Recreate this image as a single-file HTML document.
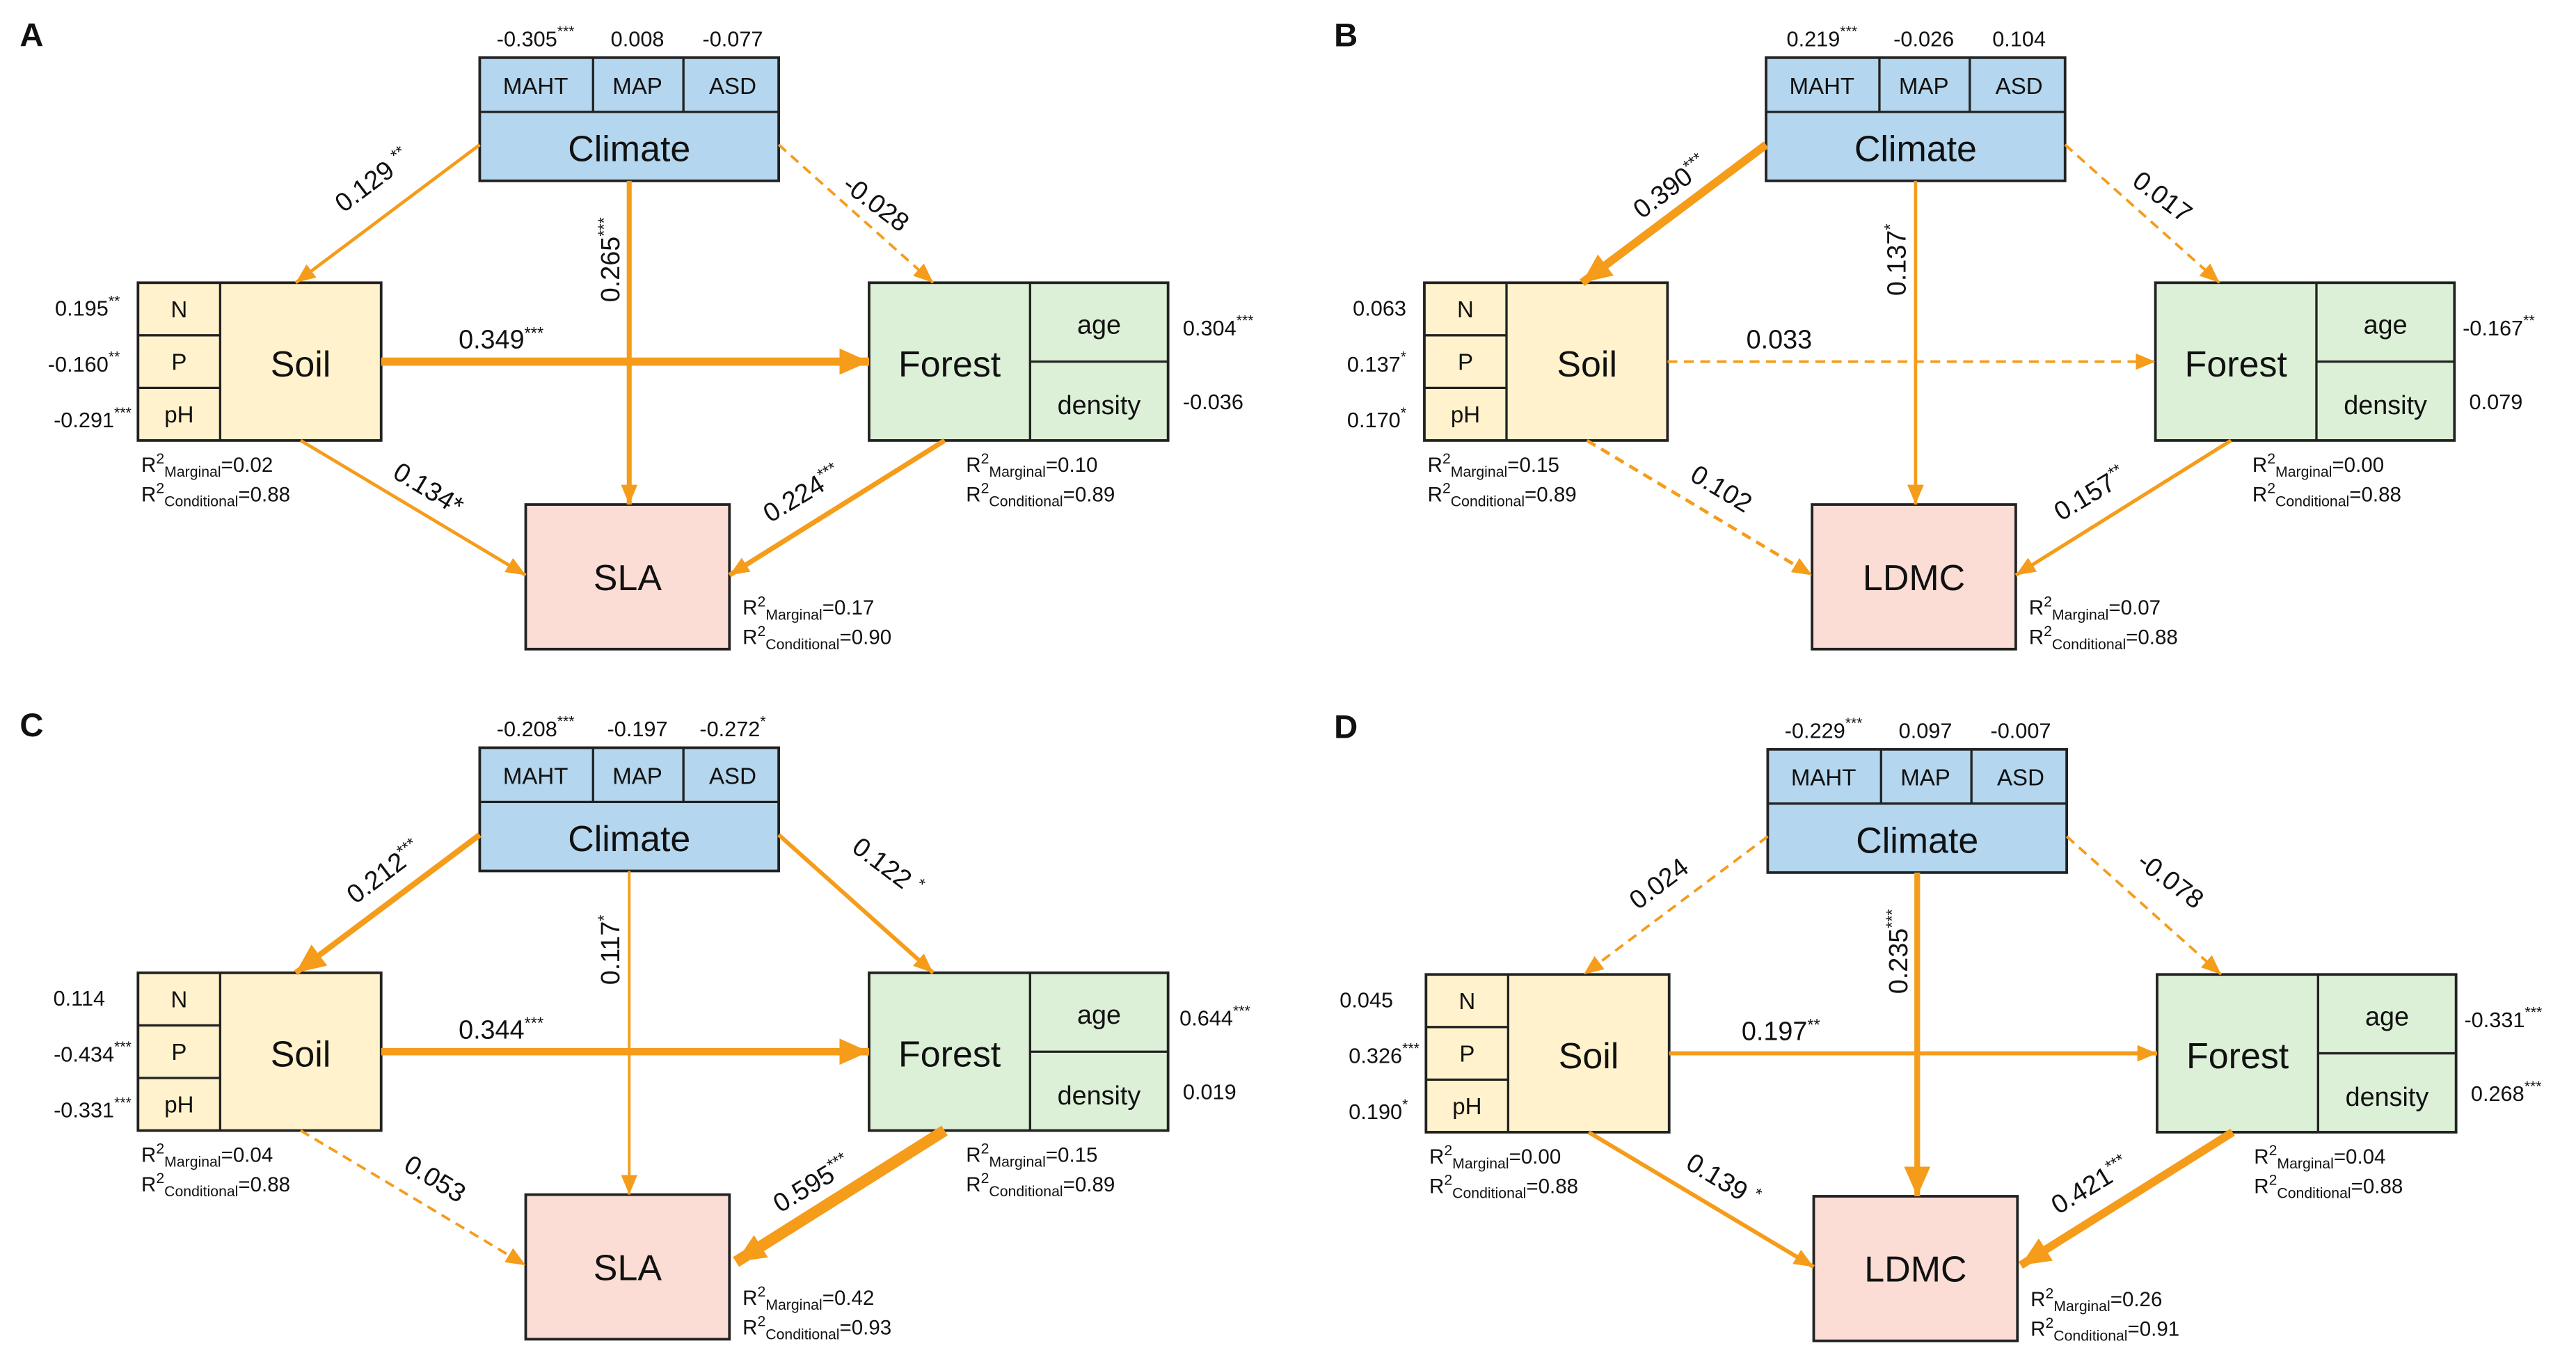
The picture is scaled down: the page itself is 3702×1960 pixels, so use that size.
<!DOCTYPE html>
<html><head><meta charset="utf-8"><style>
html,body{margin:0;padding:0;background:#fff}
svg{display:block}
text{font-family:"Liberation Sans",Arial,sans-serif;fill:#111}
.n{font-size:13px}.c{font-size:14px}.big{font-size:22px}.p{font-size:16px}.r{font-size:12.5px}
.box{stroke:#222;stroke-width:1.6}
.ln{stroke:#222;stroke-width:1.4}
.a{stroke:#f59c1a;fill:none}
.d{stroke-dasharray:6 4}
</style></head><body>
<svg width="3702" height="1960" viewBox="0 0 1568 830" xmlns="http://www.w3.org/2000/svg">
<defs>
<marker id="s" markerUnits="userSpaceOnUse" markerWidth="12" markerHeight="10" refX="12" refY="5" orient="auto"><path d="M0,0 L12,5 L0,10 z" fill="#f59c1a"/></marker>
<marker id="b" markerUnits="userSpaceOnUse" markerWidth="18" markerHeight="16" refX="18" refY="8" orient="auto"><path d="M0,0 L18,8 L0,16 z" fill="#f59c1a"/></marker>
</defs>

<!-- Panel A -->
<g>
<text x="12" y="28" style="font-size:20px;font-weight:bold">A</text>
<text class="n" x="326" y="28" text-anchor="middle">-0.305<tspan dy="-6" font-size="9">***</tspan></text>
<text class="n" x="388" y="28" text-anchor="middle">0.008</text>
<text class="n" x="446" y="28" text-anchor="middle">-0.077</text>
<rect class="box" x="292" y="35" width="182" height="75" fill="#b4d6ee"/>
<line class="ln" x1="292" y1="68" x2="474" y2="68"/><line class="ln" x1="361" y1="35" x2="361" y2="68"/><line class="ln" x1="416" y1="35" x2="416" y2="68"/>
<text class="c" x="326" y="57" text-anchor="middle">MAHT</text><text class="c" x="388" y="57" text-anchor="middle">MAP</text><text class="c" x="446" y="57" text-anchor="middle">ASD</text>
<text class="big" x="383" y="98" text-anchor="middle">Climate</text>
<rect class="box" x="84" y="172" width="148" height="96" fill="#fff2cc"/>
<line class="ln" x1="134" y1="172" x2="134" y2="268"/><line class="ln" x1="84" y1="204" x2="134" y2="204"/><line class="ln" x1="84" y1="236" x2="134" y2="236"/>
<text class="c" x="109" y="193" text-anchor="middle">N</text><text class="c" x="109" y="225" text-anchor="middle">P</text><text class="c" x="109" y="257" text-anchor="middle">pH</text>
<text class="big" x="183" y="229" text-anchor="middle">Soil</text>
<rect class="box" x="529" y="172" width="182" height="96" fill="#dcefd7"/>
<line class="ln" x1="627" y1="172" x2="627" y2="268"/><line class="ln" x1="627" y1="220" x2="711" y2="220"/>
<text class="big" x="578" y="229" text-anchor="middle">Forest</text>
<text class="p" x="669" y="203" text-anchor="middle">age</text><text class="p" x="669" y="252" text-anchor="middle">density</text>
<rect class="box" x="320" y="307" width="124" height="88" fill="#fbddd5"/>
<text class="big" x="382" y="359" text-anchor="middle">SLA</text>
<text class="n" x="73" y="192" text-anchor="end">0.195<tspan dy="-6" font-size="9">**</tspan></text>
<text class="n" x="73" y="226" text-anchor="end">-0.160<tspan dy="-6" font-size="9">**</tspan></text>
<text class="n" x="80" y="260" text-anchor="end">-0.291<tspan dy="-6" font-size="9">***</tspan></text>
<text class="n" x="720" y="204">0.304<tspan dy="-6" font-size="9">***</tspan></text>
<text class="n" x="720" y="249">-0.036</text>
<text class="r" x="86" y="287">R<tspan dy="-5" font-size="9">2</tspan><tspan dy="8" font-size="9">Marginal</tspan><tspan dy="-3">=0.02</tspan></text>
<text class="r" x="86" y="305">R<tspan dy="-5" font-size="9">2</tspan><tspan dy="8" font-size="9">Conditional</tspan><tspan dy="-3">=0.88</tspan></text>
<text class="r" x="588" y="287">R<tspan dy="-5" font-size="9">2</tspan><tspan dy="8" font-size="9">Marginal</tspan><tspan dy="-3">=0.10</tspan></text>
<text class="r" x="588" y="305">R<tspan dy="-5" font-size="9">2</tspan><tspan dy="8" font-size="9">Conditional</tspan><tspan dy="-3">=0.89</tspan></text>
<text class="r" x="452" y="374">R<tspan dy="-5" font-size="9">2</tspan><tspan dy="8" font-size="9">Marginal</tspan><tspan dy="-3">=0.17</tspan></text>
<text class="r" x="452" y="392">R<tspan dy="-5" font-size="9">2</tspan><tspan dy="8" font-size="9">Conditional</tspan><tspan dy="-3">=0.90</tspan></text>
<line class="a" x1="292" y1="88" x2="180" y2="172" stroke-width="2" marker-end="url(#s)"/>
<line class="a d" x1="474" y1="88" x2="568" y2="172" stroke-width="1.6" marker-end="url(#s)"/>
<line class="a" x1="383" y1="110" x2="383" y2="307" stroke-width="3" marker-end="url(#s)"/>
<line class="a" x1="232" y1="220" x2="529" y2="220" stroke-width="5" marker-end="url(#b)"/>
<line class="a" x1="183" y1="268" x2="320" y2="350" stroke-width="2" marker-end="url(#s)"/>
<line class="a" x1="575" y1="268" x2="444" y2="350" stroke-width="3" marker-end="url(#s)"/>
<text class="p" transform="translate(230,114) rotate(-37)" text-anchor="middle">0.129 <tspan dy="-6" font-size="10">**</tspan></text>
<text class="p" transform="translate(530,128) rotate(37)" text-anchor="middle">-0.028</text>
<text class="p" transform="translate(377,158) rotate(-90)" text-anchor="middle">0.265<tspan dy="-6" font-size="10">***</tspan></text>
<text class="p" x="305" y="212" text-anchor="middle">0.349<tspan dy="-6" font-size="10">***</tspan></text>
<text class="p" transform="translate(258,302) rotate(31)" text-anchor="middle">0.134*</text>
<text class="p" transform="translate(491,305) rotate(-31)" text-anchor="middle">0.224<tspan dy="-6" font-size="10">***</tspan></text>
</g>

<!-- Panel B -->
<g transform="translate(783,0)">
<text x="29" y="28" style="font-size:20px;font-weight:bold">B</text>
<text class="n" x="326" y="28" text-anchor="middle">0.219<tspan dy="-6" font-size="9">***</tspan></text>
<text class="n" x="388" y="28" text-anchor="middle">-0.026</text>
<text class="n" x="446" y="28" text-anchor="middle">0.104</text>
<rect class="box" x="292" y="35" width="182" height="75" fill="#b4d6ee"/>
<line class="ln" x1="292" y1="68" x2="474" y2="68"/><line class="ln" x1="361" y1="35" x2="361" y2="68"/><line class="ln" x1="416" y1="35" x2="416" y2="68"/>
<text class="c" x="326" y="57" text-anchor="middle">MAHT</text><text class="c" x="388" y="57" text-anchor="middle">MAP</text><text class="c" x="446" y="57" text-anchor="middle">ASD</text>
<text class="big" x="383" y="98" text-anchor="middle">Climate</text>
<rect class="box" x="84" y="172" width="148" height="96" fill="#fff2cc"/>
<line class="ln" x1="134" y1="172" x2="134" y2="268"/><line class="ln" x1="84" y1="204" x2="134" y2="204"/><line class="ln" x1="84" y1="236" x2="134" y2="236"/>
<text class="c" x="109" y="193" text-anchor="middle">N</text><text class="c" x="109" y="225" text-anchor="middle">P</text><text class="c" x="109" y="257" text-anchor="middle">pH</text>
<text class="big" x="183" y="229" text-anchor="middle">Soil</text>
<rect class="box" x="529" y="172" width="182" height="96" fill="#dcefd7"/>
<line class="ln" x1="627" y1="172" x2="627" y2="268"/><line class="ln" x1="627" y1="220" x2="711" y2="220"/>
<text class="big" x="578" y="229" text-anchor="middle">Forest</text>
<text class="p" x="669" y="203" text-anchor="middle">age</text><text class="p" x="669" y="252" text-anchor="middle">density</text>
<rect class="box" x="320" y="307" width="124" height="88" fill="#fbddd5"/>
<text class="big" x="382" y="359" text-anchor="middle">LDMC</text>
<text class="n" x="73" y="192" text-anchor="end">0.063</text>
<text class="n" x="73" y="226" text-anchor="end">0.137<tspan dy="-6" font-size="9">*</tspan></text>
<text class="n" x="73" y="260" text-anchor="end">0.170<tspan dy="-6" font-size="9">*</tspan></text>
<text class="n" x="716" y="204">-0.167<tspan dy="-6" font-size="9">**</tspan></text>
<text class="n" x="720" y="249">0.079</text>
<text class="r" x="86" y="287">R<tspan dy="-5" font-size="9">2</tspan><tspan dy="8" font-size="9">Marginal</tspan><tspan dy="-3">=0.15</tspan></text>
<text class="r" x="86" y="305">R<tspan dy="-5" font-size="9">2</tspan><tspan dy="8" font-size="9">Conditional</tspan><tspan dy="-3">=0.89</tspan></text>
<text class="r" x="588" y="287">R<tspan dy="-5" font-size="9">2</tspan><tspan dy="8" font-size="9">Marginal</tspan><tspan dy="-3">=0.00</tspan></text>
<text class="r" x="588" y="305">R<tspan dy="-5" font-size="9">2</tspan><tspan dy="8" font-size="9">Conditional</tspan><tspan dy="-3">=0.88</tspan></text>
<text class="r" x="452" y="374">R<tspan dy="-5" font-size="9">2</tspan><tspan dy="8" font-size="9">Marginal</tspan><tspan dy="-3">=0.07</tspan></text>
<text class="r" x="452" y="392">R<tspan dy="-5" font-size="9">2</tspan><tspan dy="8" font-size="9">Conditional</tspan><tspan dy="-3">=0.88</tspan></text>
<line class="a" x1="292" y1="88" x2="180" y2="172" stroke-width="5" marker-end="url(#b)"/>
<line class="a d" x1="474" y1="88" x2="568" y2="172" stroke-width="1.6" marker-end="url(#s)"/>
<line class="a" x1="383" y1="110" x2="383" y2="307" stroke-width="2" marker-end="url(#s)"/>
<line class="a d" x1="232" y1="220" x2="529" y2="220" stroke-width="1.6" marker-end="url(#s)"/>
<line class="a d" x1="183" y1="268" x2="320" y2="350" stroke-width="2" marker-end="url(#s)"/>
<line class="a" x1="575" y1="268" x2="444" y2="350" stroke-width="2.2" marker-end="url(#s)"/>
<text class="p" transform="translate(237,118) rotate(-37)" text-anchor="middle">0.390<tspan dy="-6" font-size="10">***</tspan></text>
<text class="p" transform="translate(530,124) rotate(37)" text-anchor="middle">0.017</text>
<text class="p" transform="translate(377,158) rotate(-90)" text-anchor="middle">0.137<tspan dy="-6" font-size="10">*</tspan></text>
<text class="p" x="300" y="212" text-anchor="middle">0.033</text>
<text class="p" transform="translate(262,302) rotate(31)" text-anchor="middle">0.102</text>
<text class="p" transform="translate(492,305) rotate(-31)" text-anchor="middle">0.157<tspan dy="-6" font-size="10">**</tspan></text>
</g>

<!-- Panel C -->
<g transform="translate(0,420)">
<text x="12" y="28" style="font-size:20px;font-weight:bold">C</text>
<text class="n" x="326" y="28" text-anchor="middle">-0.208<tspan dy="-6" font-size="9">***</tspan></text>
<text class="n" x="388" y="28" text-anchor="middle">-0.197</text>
<text class="n" x="446" y="28" text-anchor="middle">-0.272<tspan dy="-6" font-size="9">*</tspan></text>
<rect class="box" x="292" y="35" width="182" height="75" fill="#b4d6ee"/>
<line class="ln" x1="292" y1="68" x2="474" y2="68"/><line class="ln" x1="361" y1="35" x2="361" y2="68"/><line class="ln" x1="416" y1="35" x2="416" y2="68"/>
<text class="c" x="326" y="57" text-anchor="middle">MAHT</text><text class="c" x="388" y="57" text-anchor="middle">MAP</text><text class="c" x="446" y="57" text-anchor="middle">ASD</text>
<text class="big" x="383" y="98" text-anchor="middle">Climate</text>
<rect class="box" x="84" y="172" width="148" height="96" fill="#fff2cc"/>
<line class="ln" x1="134" y1="172" x2="134" y2="268"/><line class="ln" x1="84" y1="204" x2="134" y2="204"/><line class="ln" x1="84" y1="236" x2="134" y2="236"/>
<text class="c" x="109" y="193" text-anchor="middle">N</text><text class="c" x="109" y="225" text-anchor="middle">P</text><text class="c" x="109" y="257" text-anchor="middle">pH</text>
<text class="big" x="183" y="229" text-anchor="middle">Soil</text>
<rect class="box" x="529" y="172" width="182" height="96" fill="#dcefd7"/>
<line class="ln" x1="627" y1="172" x2="627" y2="268"/><line class="ln" x1="627" y1="220" x2="711" y2="220"/>
<text class="big" x="578" y="229" text-anchor="middle">Forest</text>
<text class="p" x="669" y="203" text-anchor="middle">age</text><text class="p" x="669" y="252" text-anchor="middle">density</text>
<rect class="box" x="320" y="307" width="124" height="88" fill="#fbddd5"/>
<text class="big" x="382" y="359" text-anchor="middle">SLA</text>
<text class="n" x="64" y="192" text-anchor="end">0.114</text>
<text class="n" x="80" y="226" text-anchor="end">-0.434<tspan dy="-6" font-size="9">***</tspan></text>
<text class="n" x="80" y="260" text-anchor="end">-0.331<tspan dy="-6" font-size="9">***</tspan></text>
<text class="n" x="718" y="204">0.644<tspan dy="-6" font-size="9">***</tspan></text>
<text class="n" x="720" y="249">0.019</text>
<text class="r" x="86" y="287">R<tspan dy="-5" font-size="9">2</tspan><tspan dy="8" font-size="9">Marginal</tspan><tspan dy="-3">=0.04</tspan></text>
<text class="r" x="86" y="305">R<tspan dy="-5" font-size="9">2</tspan><tspan dy="8" font-size="9">Conditional</tspan><tspan dy="-3">=0.88</tspan></text>
<text class="r" x="588" y="287">R<tspan dy="-5" font-size="9">2</tspan><tspan dy="8" font-size="9">Marginal</tspan><tspan dy="-3">=0.15</tspan></text>
<text class="r" x="588" y="305">R<tspan dy="-5" font-size="9">2</tspan><tspan dy="8" font-size="9">Conditional</tspan><tspan dy="-3">=0.89</tspan></text>
<text class="r" x="452" y="374">R<tspan dy="-5" font-size="9">2</tspan><tspan dy="8" font-size="9">Marginal</tspan><tspan dy="-3">=0.42</tspan></text>
<text class="r" x="452" y="392">R<tspan dy="-5" font-size="9">2</tspan><tspan dy="8" font-size="9">Conditional</tspan><tspan dy="-3">=0.93</tspan></text>
<line class="a" x1="292" y1="88" x2="180" y2="172" stroke-width="3.5" marker-end="url(#b)"/>
<line class="a" x1="474" y1="88" x2="568" y2="172" stroke-width="2.5" marker-end="url(#s)"/>
<line class="a" x1="383" y1="110" x2="383" y2="307" stroke-width="1.6" marker-end="url(#s)"/>
<line class="a" x1="232" y1="220" x2="529" y2="220" stroke-width="4.5" marker-end="url(#b)"/>
<line class="a d" x1="183" y1="268" x2="320" y2="350" stroke-width="1.6" marker-end="url(#s)"/>
<line class="a" x1="575" y1="268" x2="448" y2="348" stroke-width="7" marker-end="url(#b)"/>
<text class="p" transform="translate(237,115) rotate(-37)" text-anchor="middle">0.212<tspan dy="-6" font-size="10">***</tspan></text>
<text class="p" transform="translate(537,112) rotate(37)" text-anchor="middle">0.122 <tspan dy="-6" font-size="10">*</tspan></text>
<text class="p" transform="translate(377,158) rotate(-90)" text-anchor="middle">0.117<tspan dy="-6" font-size="10">*</tspan></text>
<text class="p" x="305" y="212" text-anchor="middle">0.344<tspan dy="-6" font-size="10">***</tspan></text>
<text class="p" transform="translate(262,302) rotate(31)" text-anchor="middle">0.053</text>
<text class="p" transform="translate(497,305) rotate(-31)" text-anchor="middle">0.595<tspan dy="-6" font-size="10">***</tspan></text>
</g>

<!-- Panel D -->
<g transform="translate(784,421)">
<text x="28" y="28" style="font-size:20px;font-weight:bold">D</text>
<text class="n" x="326" y="28" text-anchor="middle">-0.229<tspan dy="-6" font-size="9">***</tspan></text>
<text class="n" x="388" y="28" text-anchor="middle">0.097</text>
<text class="n" x="446" y="28" text-anchor="middle">-0.007</text>
<rect class="box" x="292" y="35" width="182" height="75" fill="#b4d6ee"/>
<line class="ln" x1="292" y1="68" x2="474" y2="68"/><line class="ln" x1="361" y1="35" x2="361" y2="68"/><line class="ln" x1="416" y1="35" x2="416" y2="68"/>
<text class="c" x="326" y="57" text-anchor="middle">MAHT</text><text class="c" x="388" y="57" text-anchor="middle">MAP</text><text class="c" x="446" y="57" text-anchor="middle">ASD</text>
<text class="big" x="383" y="98" text-anchor="middle">Climate</text>
<rect class="box" x="84" y="172" width="148" height="96" fill="#fff2cc"/>
<line class="ln" x1="134" y1="172" x2="134" y2="268"/><line class="ln" x1="84" y1="204" x2="134" y2="204"/><line class="ln" x1="84" y1="236" x2="134" y2="236"/>
<text class="c" x="109" y="193" text-anchor="middle">N</text><text class="c" x="109" y="225" text-anchor="middle">P</text><text class="c" x="109" y="257" text-anchor="middle">pH</text>
<text class="big" x="183" y="229" text-anchor="middle">Soil</text>
<rect class="box" x="529" y="172" width="182" height="96" fill="#dcefd7"/>
<line class="ln" x1="627" y1="172" x2="627" y2="268"/><line class="ln" x1="627" y1="220" x2="711" y2="220"/>
<text class="big" x="578" y="229" text-anchor="middle">Forest</text>
<text class="p" x="669" y="203" text-anchor="middle">age</text><text class="p" x="669" y="252" text-anchor="middle">density</text>
<rect class="box" x="320" y="307" width="124" height="88" fill="#fbddd5"/>
<text class="big" x="382" y="359" text-anchor="middle">LDMC</text>
<text class="n" x="64" y="192" text-anchor="end">0.045</text>
<text class="n" x="80" y="226" text-anchor="end">0.326<tspan dy="-6" font-size="9">***</tspan></text>
<text class="n" x="73" y="260" text-anchor="end">0.190<tspan dy="-6" font-size="9">*</tspan></text>
<text class="n" x="716" y="204">-0.331<tspan dy="-6" font-size="9">***</tspan></text>
<text class="n" x="720" y="249">0.268<tspan dy="-6" font-size="9">***</tspan></text>
<text class="r" x="86" y="287">R<tspan dy="-5" font-size="9">2</tspan><tspan dy="8" font-size="9">Marginal</tspan><tspan dy="-3">=0.00</tspan></text>
<text class="r" x="86" y="305">R<tspan dy="-5" font-size="9">2</tspan><tspan dy="8" font-size="9">Conditional</tspan><tspan dy="-3">=0.88</tspan></text>
<text class="r" x="588" y="287">R<tspan dy="-5" font-size="9">2</tspan><tspan dy="8" font-size="9">Marginal</tspan><tspan dy="-3">=0.04</tspan></text>
<text class="r" x="588" y="305">R<tspan dy="-5" font-size="9">2</tspan><tspan dy="8" font-size="9">Conditional</tspan><tspan dy="-3">=0.88</tspan></text>
<text class="r" x="452" y="374">R<tspan dy="-5" font-size="9">2</tspan><tspan dy="8" font-size="9">Marginal</tspan><tspan dy="-3">=0.26</tspan></text>
<text class="r" x="452" y="392">R<tspan dy="-5" font-size="9">2</tspan><tspan dy="8" font-size="9">Conditional</tspan><tspan dy="-3">=0.91</tspan></text>
<line class="a d" x1="292" y1="88" x2="180" y2="172" stroke-width="1.6" marker-end="url(#s)"/>
<line class="a d" x1="474" y1="88" x2="568" y2="172" stroke-width="1.6" marker-end="url(#s)"/>
<line class="a" x1="383" y1="110" x2="383" y2="307" stroke-width="3.5" marker-end="url(#b)"/>
<line class="a" x1="232" y1="220" x2="529" y2="220" stroke-width="2.5" marker-end="url(#s)"/>
<line class="a" x1="183" y1="268" x2="320" y2="350" stroke-width="2.5" marker-end="url(#s)"/>
<line class="a" x1="575" y1="268" x2="446" y2="349" stroke-width="5" marker-end="url(#b)"/>
<text class="p" transform="translate(229,121) rotate(-37)" text-anchor="middle">0.024</text>
<text class="p" transform="translate(534,119) rotate(37)" text-anchor="middle">-0.078</text>
<text class="p" transform="translate(377,158) rotate(-90)" text-anchor="middle">0.235<tspan dy="-6" font-size="10">***</tspan></text>
<text class="p" x="300" y="212" text-anchor="middle">0.197<tspan dy="-6" font-size="10">**</tspan></text>
<text class="p" transform="translate(262,302) rotate(31)" text-anchor="middle">0.139 <tspan dy="-6" font-size="10">*</tspan></text>
<text class="p" transform="translate(491,305) rotate(-31)" text-anchor="middle">0.421<tspan dy="-6" font-size="10">***</tspan></text>
</g>
</svg>
</body></html>
